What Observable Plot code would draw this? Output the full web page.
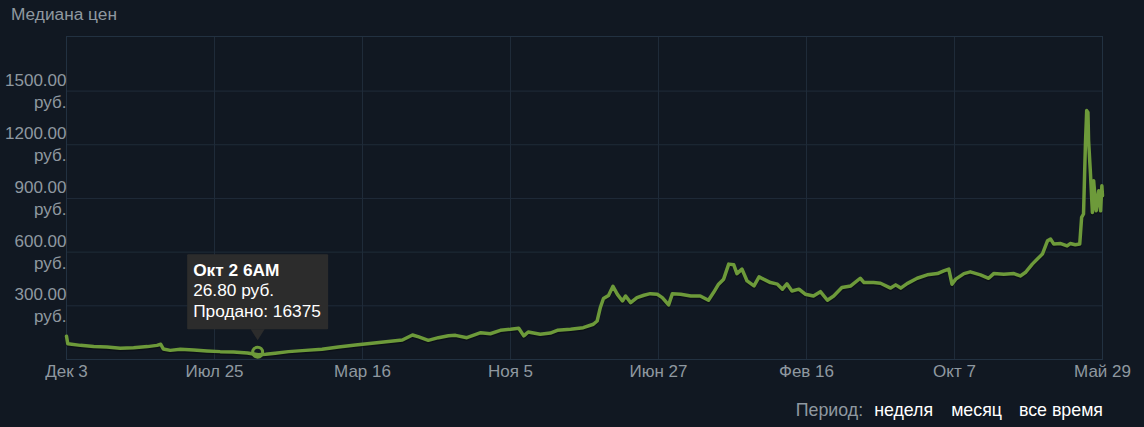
<!DOCTYPE html>
<html>
<head>
<meta charset="utf-8">
<script src="https://cdn.jsdelivr.net/npm/d3@7"></script>
<script src="https://cdn.jsdelivr.net/npm/@observablehq/plot@0.6"></script>
<style>
  html, body { margin: 0; padding: 0; background: #111822; }
  body { width: 1144px; height: 427px; position: relative; overflow: hidden;
         font-family: Arial, "Liberation Sans", sans-serif; }
  #chart { position: absolute; left: 0; top: 0; }
  #title { position: absolute; left: 11px; top: 6px; font-size: 17.3px; line-height: 17px; color: #8f98a0; white-space: nowrap; }
  #period { position: absolute; right: 41px; top: 402px; font-size: 17.8px; line-height: 17px; color: #ffffff; white-space: nowrap; }
  #period .lbl { color: #8f98a0; }
</style>
</head>
<body>
<div id="chart"></div>
<div id="title"></div>
<div id="period"></div>
<script>
// ---- texts ----
const titleText = "Медиана цен";
const periodLabel = "Период:";
const periodOptions = ["неделя", "месяц", "все время"];
const currency = "руб.";
const monthNames = ["Янв","Фев","Мар","Апр","Май","Июн","Июл","Авг","Сен","Окт","Ноя","Дек"];

// ---- axis ticks ----
const xTicks = ["2016-12-03","2017-07-25","2018-03-16","2018-11-05","2019-06-27","2020-02-16","2020-10-07","2021-05-29"];
const yTicks = [300, 600, 900, 1200, 1500];

// ---- series ----
const dates = [
"2016-12-03","2016-12-05","2016-12-25","2017-01-15","2017-02-05","2017-02-26","2017-03-19","2017-04-10","2017-04-25","2017-05-01",
"2017-05-05","2017-05-16","2017-06-01","2017-06-22","2017-07-13","2017-08-03","2017-08-24","2017-09-15","2017-10-02","2017-10-14",
"2017-10-29","2017-11-19","2017-12-16","2018-01-11","2018-02-06","2018-03-05","2018-03-31","2018-04-26","2018-05-18","2018-06-03",
"2018-06-13","2018-06-28","2018-07-14","2018-07-30","2018-08-10","2018-08-28","2018-09-19","2018-10-04","2018-10-20","2018-11-05",
"2018-11-18","2018-11-26","2018-12-03","2018-12-22","2019-01-07","2019-01-18","2019-02-08","2019-02-28","2019-03-16","2019-03-22",
"2019-03-27","2019-04-01","2019-04-09","2019-04-16","2019-04-23","2019-05-01","2019-05-06","2019-05-14","2019-05-24","2019-06-04",
"2019-06-14","2019-06-25","2019-07-03","2019-07-13","2019-07-19","2019-08-01","2019-08-17","2019-09-01","2019-09-14","2019-09-22",
"2019-09-30","2019-10-08","2019-10-16","2019-10-24","2019-10-29","2019-11-06","2019-11-14","2019-11-25","2019-12-03","2019-12-10",
"2019-12-21","2020-01-01","2020-01-09","2020-01-16","2020-01-24","2020-02-04","2020-02-14","2020-02-27","2020-03-09","2020-03-20",
"2020-03-30","2020-04-12","2020-04-26","2020-05-11","2020-05-17","2020-06-01","2020-06-12","2020-06-28","2020-07-06","2020-07-14",
"2020-07-24","2020-08-09","2020-08-25","2020-09-10","2020-09-20","2020-09-28","2020-10-03","2020-10-09","2020-10-22","2020-11-01",
"2020-11-17","2020-11-30","2020-12-08","2020-12-24","2021-01-09","2021-01-19","2021-01-27","2021-02-07","2021-02-15","2021-02-23",
"2021-03-03","2021-03-08","2021-03-13","2021-03-24","2021-04-03","2021-04-08","2021-04-16","2021-04-23","2021-04-26","2021-04-29",
"2021-05-02","2021-05-04","2021-05-06","2021-05-07","2021-05-10","2021-05-13","2021-05-15","2021-05-19","2021-05-23","2021-05-26",
"2021-05-28","2021-05-29"
];
const prices = [
130, 88, 79, 72, 70, 63, 66, 72, 79, 85,
59, 51, 57, 53, 48, 44, 42, 36, 26.8, 29,
35, 44, 51, 57, 70, 81, 91, 100, 109, 137,
126, 107, 122, 133, 135, 122, 150, 144, 163, 169,
175, 132, 154, 141, 148, 163, 169, 178, 197, 215,
290, 341, 358, 409, 364, 327, 355, 318, 346, 359,
368, 365, 346, 305, 368, 365, 355, 355, 331, 374,
421, 449, 533, 529, 480, 505, 439, 411, 462, 449,
430, 421, 393, 423, 383, 393, 365, 355, 379, 331,
355, 402, 411, 454, 430, 430, 426, 399, 417, 399,
424, 454, 473, 480, 495, 505, 421, 449, 480, 490,
473, 454, 480, 477, 480, 467, 486, 533, 561, 589,
663, 673, 645, 648, 635, 648, 641, 645, 794, 813,
1204, 1391, 1380, 1223, 1037, 822, 999, 831, 943, 831,
971, 915
];

// ---- tooltip ----
const tipDate = "2017-10-02";
const tipTime = "6AM";
const tipPrice = 26.80;
const tipSold = 16375;
const soldLabel = "Продано:";

// ---- styles ----
const gridColor = "#1f2b39";
const textColor = "#8f98a0";
const lineColor = "#6d9a3a";
const tipFill = "#2c2c2c";

const data = dates.map((d, i) => ({date: new Date(d), price: prices[i]}));
const xTickDates = xTicks.map(d => new Date(d));
const fmtDate = d => monthNames[d.getUTCMonth()] + " " + d.getUTCDate();

function tooltipMark(index, scales, values, dimensions, context) {
  const td = new Date(tipDate);
  const px = scales.x(td), py = scales.y(tipPrice);
  const w = 141, h = 75;
  const bx = px - w / 2, by = py - 25 - h;
  const g = d3.create("svg:g");
  g.append("rect").attr("x", bx).attr("y", by).attr("width", w).attr("height", h)
    .attr("fill", tipFill).attr("rx", 1);
  g.append("path").attr("d", `M${px - 7},${by + h}L${px},${py - 14}L${px + 7},${by + h}Z`).attr("fill", tipFill);
  g.append("circle").attr("cx", px).attr("cy", py - 2).attr("r", 5)
    .attr("fill", "none").attr("stroke", lineColor).attr("stroke-width", 3);
  const lines = [
    {t: fmtDate(td) + " " + tipTime, bold: true},
    {t: tipPrice.toFixed(2) + " " + currency, bold: false},
    {t: soldLabel + " " + tipSold, bold: false}
  ];
  lines.forEach((l, i) => {
    g.append("text").attr("x", bx + 6).attr("y", by + 21.5 + i * 20.5)
      .attr("text-anchor", "start")
      .attr("fill", "#ffffff").attr("font-size", 17.3)
      .attr("font-family", "Arial, 'Liberation Sans', sans-serif")
      .attr("font-weight", l.bold ? "bold" : "normal").text(l.t);
  });
  return g.node();
}

const chart = Plot.plot({
  width: 1144, height: 427,
  marginLeft: 66, marginRight: 42, marginTop: 36, marginBottom: 68,
  style: {background: "transparent", fontFamily: "Arial, 'Liberation Sans', sans-serif", fontSize: "17px", color: textColor},
  x: {type: "utc", domain: [xTickDates[0], xTickDates[xTickDates.length - 1]]},
  y: {domain: [0, 1805]},
  marks: [
    Plot.gridX(xTickDates, {stroke: gridColor, strokeOpacity: 1}),
    Plot.gridY(yTicks, {stroke: gridColor, strokeOpacity: 1}),
    Plot.frame({stroke: "#223141"}),
    Plot.axisX(xTickDates, {tickSize: 0, tickPadding: 5, tickFormat: fmtDate, fill: textColor, fontSize: 17, label: null}),
    Plot.axisY(yTicks, {tickSize: 0, tickPadding: 0, dy: -1.5, tickFormat: d => d.toFixed(2) + "\n" + currency,
      lineHeight: 1.3, fill: textColor, fontSize: 17, label: null}),
    Plot.line(data, {x: "date", y: "price", stroke: "#000", strokeOpacity: 0.3, strokeWidth: 3.5, dy: 1.5}),
    Plot.line(data, {x: "date", y: "price", stroke: lineColor, strokeWidth: 3.5}),
    tooltipMark
  ]
});
document.getElementById("chart").appendChild(chart);

document.getElementById("title").textContent = titleText;
const period = document.getElementById("period");
const lbl = document.createElement("span");
lbl.className = "lbl"; lbl.textContent = periodLabel;
period.appendChild(lbl);
const gaps = [11, 18, 17];
periodOptions.forEach((p, i) => {
  const s = document.createElement("span");
  s.style.marginLeft = gaps[i] + "px";
  s.textContent = p;
  period.appendChild(s);
});
</script>
</body>
</html>
